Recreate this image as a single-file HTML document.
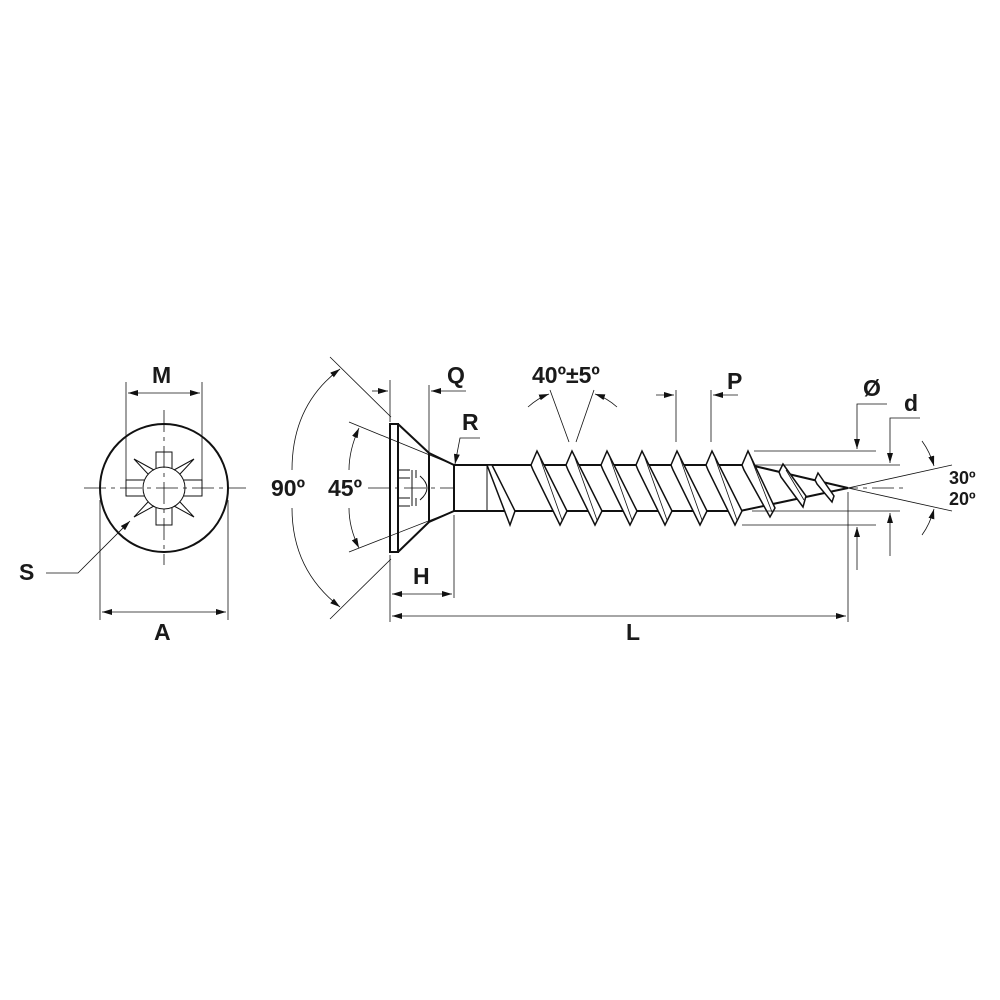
<!DOCTYPE html>
<html><head><style>body{margin:0;background:#fff}svg{display:block}
text{font-family:"Liberation Sans",sans-serif;font-weight:bold;fill:#1a1a1a}</style></head><body>
<svg width="1000" height="1000" viewBox="0 0 1000 1000" xmlns="http://www.w3.org/2000/svg">
<defs><marker id="a" viewBox="0 0 10 6" refX="10" refY="3" markerWidth="10" markerHeight="6" orient="auto-start-reverse" markerUnits="userSpaceOnUse"><path d="M0,0L10,3L0,6z" fill="#111"/></marker></defs>
<g stroke="#111" fill="none">
<g stroke-width="0.8" stroke-dasharray="22,5,4,5">
<line x1="84" y1="488" x2="246" y2="488"/><line x1="164" y1="410" x2="164" y2="565"/>
<line x1="368" y1="488" x2="905" y2="488"/>
</g>
<circle cx="164" cy="488" r="64" stroke-width="2"/>
<g stroke-width="1">
<path d="M156,468V452H172V468M156,508V525H172V508M144,480H126V496H144M184,480H202V496H184"/>
<circle cx="164" cy="488" r="21"/>
<path d="M148,474L134,459L154,470M180,474L194,459L174,470M148,502L134,517L154,506M180,502L194,517L174,506"/>
</g>
<g stroke-width="0.8">
<line x1="126" y1="382" x2="126" y2="480"/><line x1="202" y1="382" x2="202" y2="480"/>
<line x1="128" y1="393" x2="200" y2="393" marker-start="url(#a)" marker-end="url(#a)"/>
<line x1="100" y1="500" x2="100" y2="620"/><line x1="228" y1="500" x2="228" y2="620"/>
<line x1="102" y1="612" x2="226" y2="612" marker-start="url(#a)" marker-end="url(#a)"/>
<polyline points="46,573 78,573 130,521" marker-end="url(#a)"/>
</g>
<g stroke-width="2">
<rect x="390" y="424" width="8" height="128"/>
<path d="M398,424L429,453L454,465M398,552L429,522L454,511M429,453V522"/>
<path d="M454,465H750L848,488L740,511H454z" fill="#fff"/>
<line x1="454" y1="465" x2="454" y2="511"/>
</g>
<g stroke-width="1">
<path d="M398,470H410M398,478H410M398,498H410M398,506H410M416,470V478M416,498V506"/>
<path d="M420,476Q434,488 420,500M412,470V506"/>
<line x1="487" y1="465" x2="487" y2="511"/>
</g>
<g stroke-width="1.5" fill="#fff">
<path d="M487,465L510,525L515,511L492,465z"/>
<path d="M531,465L537,451L567,511L560,525L533,470z"/>
<path d="M566,465L572,451L602,511L595,525L568,470z"/>
<path d="M601,465L607,451L637,511L630,525L603,470z"/>
<path d="M636,465L642,451L672,511L665,525L638,470z"/>
<path d="M671,465L677,451L707,511L700,525L673,470z"/>
<path d="M706,465L712,451L742,511L735,525L708,470z"/>
<path d="M742,465L748,451L775,508L770,517L744,470z"/>
<path d="M779,472L783,464L806,496L803,507L781,477z"/>
<path d="M815,480L818,473L834,496L832,502L817,484z"/>
</g>
<g stroke-width="0.8">
<path d="M540,458L562,520M575,458L597,520M610,458L632,520M645,458L667,520M680,458L702,520M715,458L737,520M751,458L772,512M786,470L804,500"/>
</g>
<g stroke-width="0.8">
<line x1="330" y1="357" x2="391" y2="417"/><line x1="330" y1="619" x2="391" y2="559"/>
<line x1="349" y1="422" x2="454" y2="465"/><line x1="349" y1="552" x2="454" y2="511"/>
<path d="M340,369Q292,405 292,470" marker-start="url(#a)"/><path d="M292,508Q292,570 340,607" marker-end="url(#a)"/>
<path d="M359,428Q349,450 349,470" marker-start="url(#a)"/><path d="M349,508Q349,528 359,548" marker-end="url(#a)"/>
<line x1="390" y1="380" x2="390" y2="422"/><line x1="429" y1="385" x2="429" y2="452"/>
<line x1="372" y1="391" x2="388" y2="391" marker-end="url(#a)"/><line x1="466" y1="391" x2="431" y2="391" marker-end="url(#a)"/>
<polyline points="480,438 460,438 455,464" marker-end="url(#a)"/>
<line x1="390" y1="555" x2="390" y2="622"/><line x1="454" y1="515" x2="454" y2="598"/><line x1="848" y1="492" x2="848" y2="622"/>
<line x1="392" y1="594" x2="452" y2="594" marker-start="url(#a)" marker-end="url(#a)"/>
<line x1="392" y1="616" x2="846" y2="616" marker-start="url(#a)" marker-end="url(#a)"/>
<line x1="550" y1="390" x2="569" y2="442"/><line x1="594" y1="390" x2="576" y2="442"/>
<path d="M528,407Q538,398 549,394" marker-end="url(#a)"/><path d="M617,407Q607,398 595,394" marker-end="url(#a)"/>
<line x1="676" y1="390" x2="676" y2="442"/><line x1="711" y1="390" x2="711" y2="442"/>
<line x1="656" y1="395" x2="674" y2="395" marker-end="url(#a)"/><line x1="738" y1="395" x2="713" y2="395" marker-end="url(#a)"/>
<line x1="754" y1="451" x2="876" y2="451"/><line x1="754" y1="465" x2="900" y2="465"/>
<line x1="752" y1="511" x2="900" y2="511"/><line x1="742" y1="525" x2="876" y2="525"/>
<polyline points="887,404 857,404 857,449" marker-end="url(#a)"/>
<polyline points="920,418 890,418 890,463" marker-end="url(#a)"/>
<line x1="857" y1="570" x2="857" y2="527" marker-end="url(#a)"/><line x1="890" y1="556" x2="890" y2="513" marker-end="url(#a)"/>
<line x1="848" y1="488" x2="952" y2="465"/><line x1="848" y1="488" x2="952" y2="511"/>
<path d="M922,441Q930,452 934,466" marker-end="url(#a)"/><path d="M922,535Q930,524 934,509" marker-end="url(#a)"/>
</g>
</g>
<g font-size="23">
<text x="152" y="383">M</text><text x="19" y="580">S</text><text x="154" y="640">A</text>
<text x="271" y="496">90º</text><text x="328" y="496">45º</text>
<text x="447" y="383">Q</text><text x="462" y="430">R</text>
<text x="532" y="383">40º±5º</text><text x="727" y="389">P</text>
<text x="863" y="396">Ø</text><text x="904" y="411">d</text>
<text x="413" y="584">H</text><text x="626" y="640">L</text>
</g>
<g font-size="18"><text x="949" y="484">30º</text><text x="949" y="505">20º</text></g>
</svg>
</body></html>
